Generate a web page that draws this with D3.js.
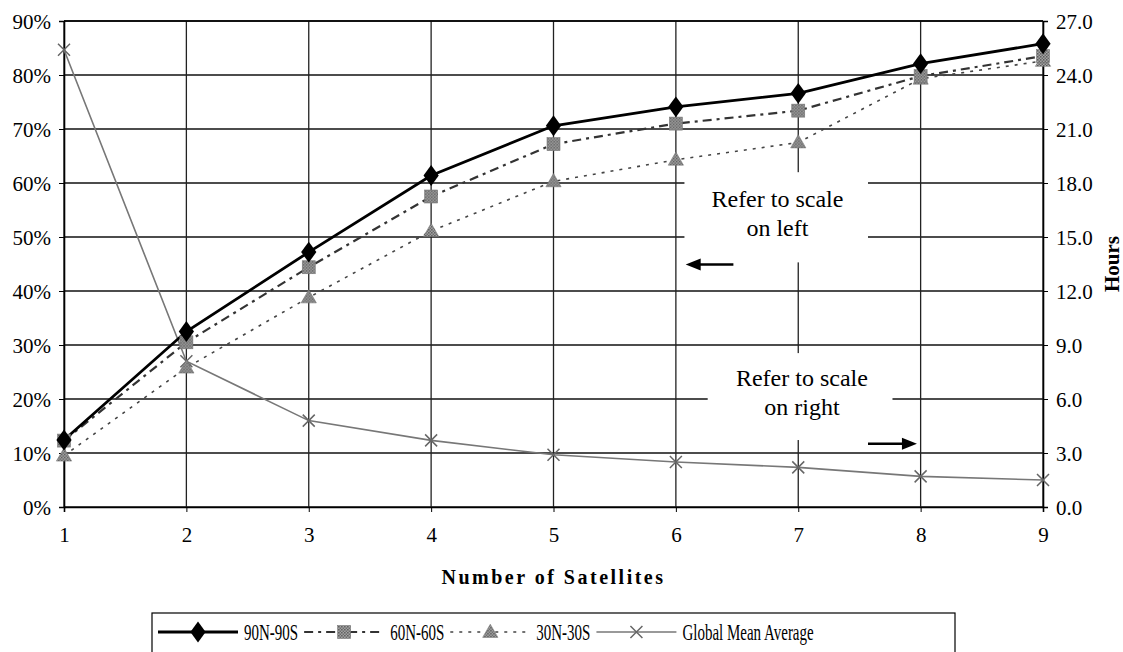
<!DOCTYPE html>
<html>
<head>
<meta charset="utf-8">
<script src="https://cdn.jsdelivr.net/npm/d3@7"></script>
<style>
  body { margin: 0; background: #fff; }
  text { font-family: "Liberation Serif", "Times New Roman", serif; fill: #000; }
</style>
</head>
<body>
<svg id="chart"></svg>
<script>
const satellites = [1, 2, 3, 4, 5, 6, 7, 8, 9];
const band90 = [12.4, 32.5, 47.2, 61.4, 70.6, 74.1, 76.6, 82.1, 85.8];
const band60 = [12.3, 30.5, 44.4, 57.5, 67.2, 71.0, 73.4, 79.8, 83.5];
const band30 = [9.5, 25.8, 38.8, 51.1, 60.3, 64.3, 67.5, 79.3, 82.6];
const globalMeanHours = [25.4, 8.1, 4.8, 3.7, 2.9, 2.5, 2.2, 1.7, 1.5];
const leftTicks = [0, 10, 20, 30, 40, 50, 60, 70, 80, 90];
const rightTicks = [0, 3, 6, 9, 12, 15, 18, 21, 24, 27];

const W = 1123, H = 652;
const margin = { top: 21, right: 80, bottom: 145, left: 64 };
const width = W - margin.left - margin.right;
const height = H - margin.top - margin.bottom;

const svg = d3.select("#chart").attr("width", W).attr("height", H);
const g = svg.append("g").attr("transform", `translate(${margin.left},${margin.top})`);

const x = d3.scaleLinear().domain([1, 9]).range([0, width]);
const yL = d3.scaleLinear().domain([0, 90]).range([height, 0]);
const yR = d3.scaleLinear().domain([0, 27]).range([height, 0]);

// hatched fill like the scanned markers
const defs = svg.append("defs");
const pat = defs.append("pattern").attr("id", "hatch").attr("width", 3).attr("height", 3)
  .attr("patternUnits", "userSpaceOnUse");
pat.append("rect").attr("width", 3).attr("height", 3).attr("fill", "#aaa");
pat.append("rect").attr("width", 1.5).attr("height", 1.5).attr("fill", "#555");
pat.append("rect").attr("x", 1.5).attr("y", 1.5).attr("width", 1.5).attr("height", 1.5).attr("fill", "#666");

// gridlines
g.append("g").selectAll("line").data(leftTicks).join("line")
  .attr("x1", 0).attr("x2", width)
  .attr("y1", d => yL(d)).attr("y2", d => yL(d))
  .attr("stroke", "#111").attr("stroke-width", 1.3);
g.append("g").selectAll("line").data(satellites).join("line")
  .attr("x1", d => x(d)).attr("x2", d => x(d))
  .attr("y1", 0).attr("y2", height)
  .attr("stroke", "#222").attr("stroke-width", 1.3);

// annotation boxes (white, they hide the grid)
const notes = [
  { lines: ["Refer to scale", "on left"], x0: 6.07, x1: 7.57, y0: 62, y1: 45.3, tx: 6.83, ty: 55.6, ax0: 6.47, ax1: 6.08, ay: 44.9 },
  { lines: ["Refer to scale", "on right"], x0: 6.26, x1: 7.77, y0: 28.5, y1: 12.4, tx: 7.03, ty: 22.5, ax0: 7.57, ax1: 7.97, ay: 11.7 }
];
notes.forEach(n => {
  g.append("rect").attr("x", x(n.x0)).attr("y", yL(n.y0))
    .attr("width", x(n.x1) - x(n.x0)).attr("height", yL(n.y1) - yL(n.y0))
    .attr("fill", "#fff");
  n.lines.forEach((t, i) => {
    g.append("text").attr("x", x(n.tx)).attr("y", yL(n.ty) + i * 29)
      .attr("text-anchor", "middle").style("font-size", "24px").text(t);
  });
  const dir = n.ax1 > n.ax0 ? 1 : -1;
  const xe = x(n.ax1), ya = yL(n.ay);
  g.append("line").attr("x1", x(n.ax0)).attr("x2", xe - dir * 12)
    .attr("y1", ya).attr("y2", ya).attr("stroke", "#000").attr("stroke-width", 2.5);
  g.append("path").attr("d", `M${xe},${ya} L${xe - dir * 15},${ya - 6} L${xe - dir * 15},${ya + 6} Z`)
    .attr("fill", "#000");
});

// axes
const axL = g.append("g").call(d3.axisLeft(yL).tickValues(leftTicks).tickSize(5).tickFormat(d => d + "%"));
const axR = g.append("g").attr("transform", `translate(${width},0)`)
  .call(d3.axisRight(yR).tickValues(rightTicks).tickSize(5).tickFormat(d3.format(".1f")));
const axB = g.append("g").attr("transform", `translate(0,${height})`)
  .call(d3.axisBottom(x).tickValues(satellites).tickSize(5).tickFormat(d3.format("d")));
[axL, axR, axB].forEach(a => {
  a.select(".domain").attr("stroke", "#000").attr("stroke-width", 1.6);
  a.selectAll(".tick line").attr("stroke", "#000");
  a.selectAll("text").style("font-size", "21px");
});
axL.selectAll("text").attr("x", -13).attr("dy", "0.34em");
axR.selectAll("text").attr("x", 13).attr("dy", "0.34em");
axB.selectAll("text").attr("y", 35).attr("dy", 0);
g.append("line").attr("x1", 0).attr("x2", width).attr("y1", 0).attr("y2", 0)
  .attr("stroke", "#000").attr("stroke-width", 1.6);

// axis titles
svg.append("text").attr("x", margin.left + width / 2).attr("y", 584)
  .attr("text-anchor", "middle").style("font-size", "20px").style("font-weight", "bold")
  .style("letter-spacing", "2.5px")
  .text("Number of Satellites");
svg.append("text").attr("transform", `translate(1119,${margin.top + height / 2}) rotate(-90)`)
  .attr("text-anchor", "middle").style("font-size", "21px").style("font-weight", "bold")
  .text("Hours");

// series
const series = [
  { name: "90N-90S", values: band90, y: yL, stroke: "#000", sw: 2.8, dash: null, marker: "diamond" },
  { name: "60N-60S", values: band60, y: yL, stroke: "#333", sw: 2.2, dash: "9,5,3,5", marker: "square" },
  { name: "30N-30S", values: band30, y: yL, stroke: "#444", sw: 1.6, dash: "3,6", marker: "triangle" },
  { name: "Global Mean Average", values: globalMeanHours, y: yR, stroke: "#777", sw: 1.6, dash: null, marker: "x" }
];

function drawMarker(sel, type) {
  if (type === "diamond") {
    sel.append("path").attr("d", d3.symbol(d3.symbolDiamond, 140)()).attr("transform", "scale(1.2,0.95)")
      .attr("fill", "#000");
  } else if (type === "square") {
    sel.append("rect").attr("x", -6.5).attr("y", -6.5).attr("width", 13).attr("height", 13)
      .attr("fill", "url(#hatch)").attr("stroke", "#777").attr("stroke-width", 0.6);
  } else if (type === "triangle") {
    sel.append("path").attr("d", d3.symbol(d3.symbolTriangle, 100)()).attr("transform", "translate(0,1)")
      .attr("fill", "url(#hatch)").attr("stroke", "#777").attr("stroke-width", 0.6);
  } else {
    sel.append("path").attr("d", "M-6,-6L6,6M-6,6L6,-6").attr("stroke", "#666").attr("stroke-width", 1.5);
  }
}

series.slice().reverse().forEach(s => {
  const line = d3.line().x((d, i) => x(satellites[i])).y(d => s.y(d));
  g.append("path").datum(s.values).attr("d", line).attr("fill", "none")
    .attr("stroke", s.stroke).attr("stroke-width", s.sw).attr("stroke-dasharray", s.dash);
});
series.slice().reverse().forEach(s => {
  g.append("g").selectAll("g").data(s.values).join("g")
    .attr("transform", (d, i) => `translate(${x(satellites[i])},${s.y(d)})`)
    .each(function () { drawMarker(d3.select(this), s.marker); });
});

// legend
const legend = svg.append("g").attr("transform", "translate(152,613)");
const lgBox = legend.append("rect").attr("x", 0).attr("y", 0).attr("height", 55)
  .attr("fill", "#fff").attr("stroke", "#000").attr("stroke-width", 1.2);
let cx = 6;
series.forEach(s => {
  const item = legend.append("g").attr("transform", `translate(${cx},19)`);
  item.append("line").attr("x1", 0).attr("x2", 80).attr("y1", 0).attr("y2", 0)
    .attr("stroke", s.stroke).attr("stroke-width", s.sw).attr("stroke-dasharray", s.dash);
  drawMarker(item.append("g").attr("transform", "translate(40,0)"), s.marker);
  const t = item.append("text").attr("transform", "translate(86,8) scale(1,1.5)")
    .style("font-size", "15px").text(s.name);
  cx += 86 + t.node().getComputedTextLength() + 6;
});
lgBox.attr("width", Math.max(cx, 803));
</script>
</body>
</html>
